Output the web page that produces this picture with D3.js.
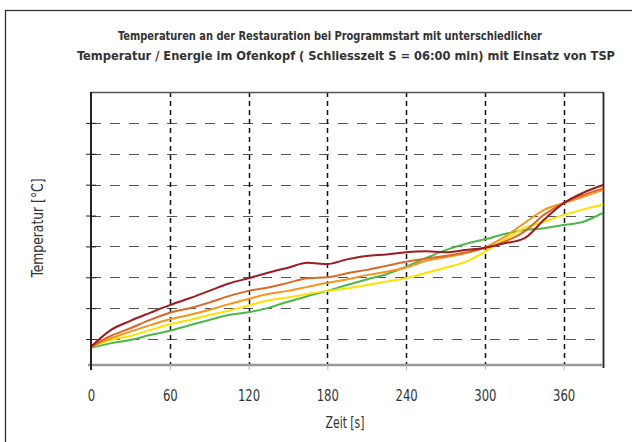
<!DOCTYPE html>
<html>
<head>
<meta charset="utf-8">
<script src="https://cdn.jsdelivr.net/npm/d3@7"></script>
<style>
  body { margin: 0; background: #fff; }
  text { font-family: "Liberation Sans Narrow", "DejaVu Sans Condensed", "Open Sans", sans-serif; fill: #333; }
</style>
</head>
<body>
<div id="chart"></div>
<script>
const w = 632;
const h = 442;

// Zeit in Sekunden
const zeit = [0, 15, 30, 45, 60, 75, 90, 105, 120, 135, 150, 165, 180, 195, 210,
              225, 240, 255, 270, 285, 300, 315, 330, 345, 360, 375, 390];

const dunkelrot = [17.5, 22.9, 25.9, 28.5, 31.0, 33.2, 35.6, 38.0, 39.7, 41.5, 43.1, 44.7, 44.3, 45.8, 46.9,
                   47.4, 48.1, 48.4, 48.1, 48.8, 49.6, 51.0, 52.6, 58.6, 64.0, 67.4, 69.9];
const dunkelorange = [17.5, 21.0, 23.5, 26.2, 28.5, 30.0, 31.8, 33.9, 35.6, 36.7, 38.2, 39.7, 40.0, 41.3, 42.4,
                      43.7, 45.0, 46.1, 46.9, 48.0, 49.4, 51.5, 54.8, 60.2, 64.0, 66.7, 68.8];
const orange = [17.5, 20.2, 22.4, 24.5, 26.4, 27.8, 29.4, 31.3, 33.0, 34.6, 35.6, 36.9, 38.2, 39.3, 40.7,
                41.8, 43.2, 45.3, 46.5, 47.8, 49.7, 53.1, 57.5, 61.8, 64.0, 66.1, 68.3];
const gelb = [17.5, 19.7, 21.0, 22.9, 24.8, 26.2, 27.8, 29.2, 30.9, 32.5, 33.5, 34.6, 35.6, 36.4, 37.5,
              38.6, 39.7, 41.4, 43.1, 45.0, 48.3, 52.1, 55.9, 58.0, 60.2, 62.0, 63.6];
const gruen = [17.2, 18.6, 19.7, 21.3, 22.7, 24.5, 26.2, 27.8, 28.7, 30.1, 32.1, 33.9, 35.6, 37.5, 39.3,
               41.0, 43.4, 46.2, 48.8, 50.8, 52.3, 54.0, 55.3, 55.9, 56.9, 58.0, 60.9];

const xTicks = [0, 60, 120, 180, 240, 300, 360];
const yTicks = [20, 30, 40, 50, 60, 70, 80, 90];

const titel = [
  "Temperaturen an der Restauration bei Programmstart mit unterschiedlicher",
  "Temperatur / Energie im Ofenkopf ( Schliesszeit S = 06:00 min) mit Einsatz von TSP"
];

const serien = [
  { werte: gruen, farbe: "#4cb848" },
  { werte: gelb, farbe: "#ffe100" },
  { werte: orange, farbe: "#f7941d" },
  { werte: dunkelorange, farbe: "#d9692a" },
  { werte: dunkelrot, farbe: "#9b1c22" }
];

const pLeft = 91, pRight = 603, pTop = 92, pBottom = 365;

const svg = d3.select("#chart")
  .append("svg")
  .attr("width", w)
  .attr("height", h);

// Rahmen
svg.append("rect")
  .attr("x", 5.5)
  .attr("y", 10.5)
  .attr("width", 660)
  .attr("height", 460)
  .attr("fill", "none")
  .attr("stroke", "#333")
  .attr("stroke-width", 1.3);

let xScale = d3.scaleLinear()
  .domain([0, 390])
  .range([pLeft, pRight]);

let yScale = d3.scaleLinear()
  .domain([11.6, 100])
  .range([pBottom, pTop]);

// Titel (schmale Schrift nachgebildet)
svg.selectAll(".titel")
  .data(titel)
  .enter()
  .append("text")
  .attr("class", "titel")
  .attr("x", function(d, i) { return i === 0 ? 118 : 77; })
  .attr("y", function(d, i) { return 40 + i * 19.5; })
  .attr("font-size", "12.8px")
  .attr("font-weight", "bold")
  .attr("textLength", function(d, i) { return i === 0 ? 424 : 538; })
  .attr("lengthAdjust", "spacingAndGlyphs")
  .text(function(d) { return d; });

// horizontale Gitterlinien
svg.selectAll(".hgrid")
  .data(yTicks)
  .enter()
  .append("line")
  .attr("class", "hgrid")
  .attr("x1", pLeft)
  .attr("x2", pRight)
  .attr("y1", function(d) { return Math.round(yScale(d)) + 0.5; })
  .attr("y2", function(d) { return Math.round(yScale(d)) + 0.5; })
  .attr("stroke", "#555")
  .attr("stroke-width", 1.2)
  .attr("stroke-dasharray", "10,9");

// vertikale Gitterlinien
svg.selectAll(".vgrid")
  .data(xTicks.slice(1))
  .enter()
  .append("line")
  .attr("class", "vgrid")
  .attr("x1", function(d) { return Math.round(xScale(d)) + 0.5; })
  .attr("x2", function(d) { return Math.round(xScale(d)) + 0.5; })
  .attr("y1", pTop)
  .attr("y2", pBottom)
  .attr("stroke", "#111")
  .attr("stroke-width", 1.5)
  .attr("stroke-dasharray", "5,4");

// oberer Rand
svg.append("line")
  .attr("x1", pLeft).attr("x2", pRight)
  .attr("y1", pTop + 0.5).attr("y2", pTop + 0.5)
  .attr("stroke", "#555").attr("stroke-width", 1.3);

// rechter Rand
svg.append("line")
  .attr("x1", pRight + 0.5).attr("x2", pRight + 0.5)
  .attr("y1", pTop).attr("y2", pBottom + 3)
  .attr("stroke", "#222").attr("stroke-width", 1.8);

// Linien
let linie = d3.line()
  .x(function(d, i) { return xScale(zeit[i]); })
  .y(function(d) { return yScale(d); })
  .curve(d3.curveMonotoneX);

svg.selectAll(".serie")
  .data(serien)
  .enter()
  .append("path")
  .attr("class", "serie")
  .attr("d", function(d) { return linie(d.werte); })
  .attr("fill", "none")
  .attr("stroke", function(d) { return d.farbe; })
  .attr("stroke-width", 2)
  .attr("stroke-linejoin", "round");

// x-Achse
let xAxis = d3.axisBottom()
  .scale(xScale)
  .tickValues(xTicks)
  .tickSize(5)
  .tickPadding(20);

let gx = svg.append("g")
  .attr("id", "xAchse")
  .attr("transform", "translate(0," + pBottom + ")")
  .call(xAxis);
gx.select(".domain")
  .attr("stroke", "#999")
  .attr("stroke-width", 2.5)
  .attr("d", "M" + (pLeft - 3) + ",0H" + pRight);
gx.selectAll(".tick line").attr("stroke", "#bbb");
gx.selectAll(".tick text")
  .attr("font-size", "16px")
  .attr("font-family", null)
  .attr("fill", "#333")
  .attr("textLength", function(d) { return String(d).length * 7.4; })
  .attr("lengthAdjust", "spacingAndGlyphs");

// y-Achse (ohne Beschriftung)
let yAxis = d3.axisLeft()
  .scale(yScale)
  .tickValues(yTicks)
  .tickSize(5)
  .tickFormat("");

let gy = svg.append("g")
  .attr("id", "yAchse")
  .attr("transform", "translate(" + pLeft + ",0)")
  .call(yAxis);
gy.select(".domain")
  .attr("stroke", "#222")
  .attr("stroke-width", 2)
  .attr("d", "M0," + pTop + "V" + (pBottom + 5));
gy.selectAll(".tick line")
  .attr("x1", 5)
  .attr("stroke", "#222");

// Achsentitel
svg.append("text")
  .attr("x", 345)
  .attr("y", 428)
  .attr("text-anchor", "middle")
  .attr("font-size", "15.5px")
  .attr("textLength", 39)
  .attr("lengthAdjust", "spacingAndGlyphs")
  .text("Zeit [s]");

svg.append("text")
  .attr("transform", "translate(43,228) rotate(-90)")
  .attr("text-anchor", "middle")
  .attr("font-size", "15px")
  .attr("textLength", 99)
  .attr("lengthAdjust", "spacingAndGlyphs")
  .text("Temperatur [°C]");
</script>
</body>
</html>
